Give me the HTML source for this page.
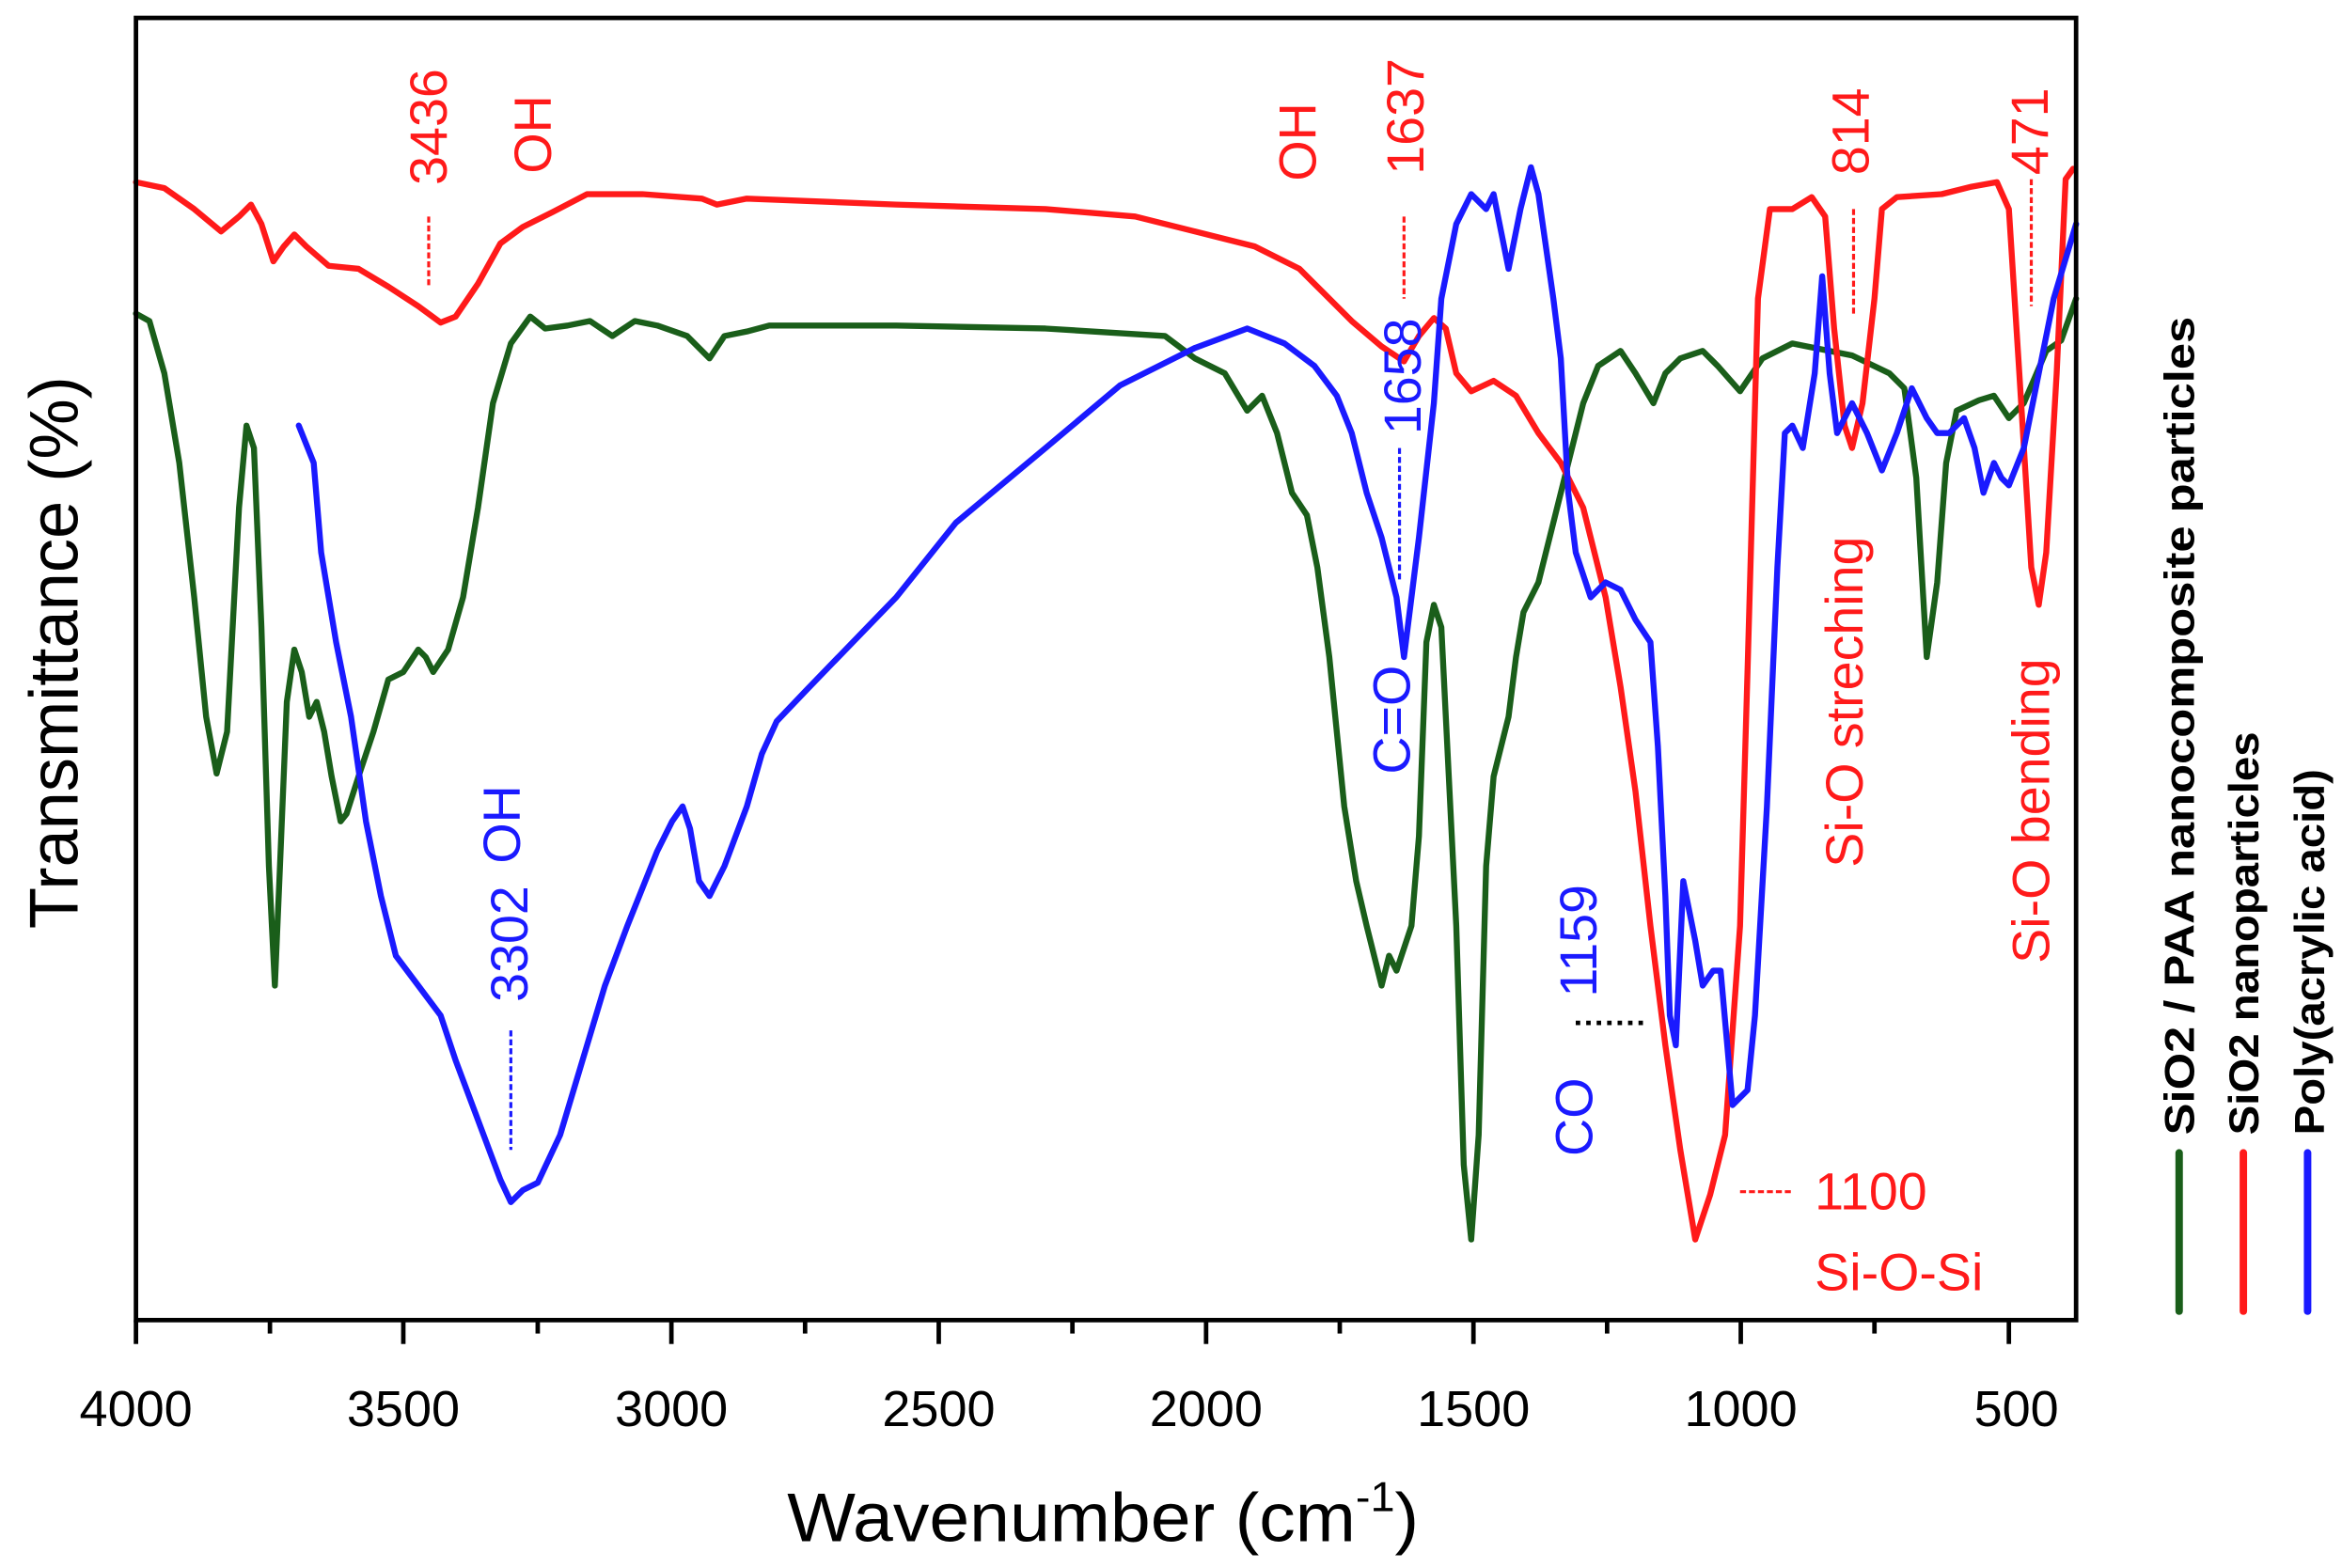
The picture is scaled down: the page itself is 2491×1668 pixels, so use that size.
<!DOCTYPE html>
<html><head><meta charset="utf-8"><style>
html,body{margin:0;padding:0;background:#fff;}
svg{display:block;}
text{font-family:"Liberation Sans",Arial,sans-serif;}
</style></head><body>
<svg width="2491" height="1668" viewBox="0 0 1568 1050" xmlns="http://www.w3.org/2000/svg">
<rect width="1568" height="1050" fill="#fff"/>
<g fill="none" stroke-width="4" stroke-linejoin="round" stroke-linecap="round">
<polyline stroke="#1a5e1a" points="91,210 100,215 110,250 120,310 130,400 138,480 145,518 152,490 160,340 165,285 170,300 175,420 180,580 184,660 187,590 192,470 197,435 202,450 207,480 212,470 217,490 222,520 228,550 232,545 240,520 250,490 260,455 270,450 280,435 285,440 290,450 300,435 310,400 320,340 330,270 342,230 355,212 365,220 380,218 395,215 410,225 425,215 440,218 460,225 475,240 485,225 500,222 515,218 540,218 600,218 700,220 780,225 800,240 820,250 835,275 845,265 855,290 865,330 875,345 882,380 890,440 900,540 908,590 915,620 920,640 925,660 930,640 935,650 945,620 950,560 955,430 960,405 965,420 970,520 975,620 980,780 985,830 990,760 995,580 1000,520 1005,500 1010,480 1015,440 1020,410 1030,390 1040,350 1050,310 1060,270 1070,245 1085,235 1095,250 1107,270 1115,250 1125,240 1140,235 1150,245 1165,262 1180,240 1200,230 1240,238 1265,250 1275,260 1283,320 1290,440 1297,390 1303,310 1310,275 1325,268 1335,265 1345,280 1355,270 1370,235 1380,228 1390,200"/>
<polyline stroke="#ff1a1a" points="91,122 110,126 130,140 148,155 160,145 168,137 175,150 183,175 190,165 197,157 205,165 220,178 240,180 260,192 280,205 295,216 305,212 320,190 335,163 350,152 370,142 393,130 430,130 470,133 480,137 500,133 600,137 700,140 760,145 800,155 840,165 870,180 885,195 905,215 925,232 940,242 950,225 960,213 968,220 975,250 985,262 1000,255 1015,265 1030,290 1045,310 1060,340 1075,400 1085,460 1095,530 1105,620 1115,700 1125,770 1135,830 1145,800 1155,760 1165,620 1170,450 1177,200 1185,140 1200,140 1213,132 1222,145 1228,220 1235,285 1240,300 1247,270 1255,200 1260,140 1270,132 1300,130 1320,125 1337,122 1345,140 1352,250 1360,380 1365,405 1370,370 1377,250 1383,120 1388,113"/>
<polyline stroke="#1a1aff" points="200,285 210,310 215,370 225,430 235,480 245,550 255,600 265,640 280,660 295,680 305,710 320,750 335,790 342,805 350,797 360,792 375,760 390,710 405,660 420,620 440,570 450,550 457,540 462,555 468,590 475,600 485,580 500,540 510,505 520,483 540,462 600,400 640,350 700,300 750,258 800,233 835,220 860,230 880,245 895,265 905,290 915,330 925,360 935,400 940,440 945,400 950,360 960,270 965,200 975,150 985,130 995,140 1000,130 1010,180 1018,140 1025,112 1030,130 1040,200 1045,240 1050,330 1055,370 1065,400 1075,390 1085,395 1095,415 1105,430 1110,500 1115,600 1118,680 1122,700 1127,590 1135,630 1140,660 1147,650 1152,650 1160,740 1170,730 1175,680 1183,540 1190,380 1195,290 1200,285 1207,300 1215,250 1220,185 1225,250 1230,290 1240,270 1250,290 1260,315 1270,290 1280,260 1290,280 1297,290 1305,290 1315,280 1322,300 1328,330 1335,310 1340,320 1345,325 1355,300 1365,250 1375,200 1390,150"/>
</g>
<rect x="91" y="12" width="1299" height="872" fill="none" stroke="#000" stroke-width="3"/>
<g stroke="#000" stroke-width="3">
<line x1="91" y1="884" x2="91" y2="900"/><line x1="180.7" y1="884" x2="180.7" y2="893"/>
<line x1="270" y1="884" x2="270" y2="900"/><line x1="360" y1="884" x2="360" y2="893"/>
<line x1="449.5" y1="884" x2="449.5" y2="900"/><line x1="539" y1="884" x2="539" y2="893"/>
<line x1="628.5" y1="884" x2="628.5" y2="900"/><line x1="718" y1="884" x2="718" y2="893"/>
<line x1="807.5" y1="884" x2="807.5" y2="900"/><line x1="897" y1="884" x2="897" y2="893"/>
<line x1="986.5" y1="884" x2="986.5" y2="900"/><line x1="1076" y1="884" x2="1076" y2="893"/>
<line x1="1165.5" y1="884" x2="1165.5" y2="900"/><line x1="1255" y1="884" x2="1255" y2="893"/>
<line x1="1345" y1="884" x2="1345" y2="900"/>
</g>
<g font-size="34" text-anchor="middle" fill="#000">
<text x="91" y="955">4000</text><text x="270" y="955">3500</text><text x="449.5" y="955">3000</text>
<text x="628.5" y="955">2500</text><text x="807.5" y="955">2000</text><text x="986.5" y="955">1500</text>
<text x="1165.5" y="955">1000</text><text x="1350" y="955">500</text>
</g>
<text x="527" y="1032" font-size="46" textLength="423" lengthAdjust="spacingAndGlyphs">Wavenumber (cm<tspan font-size="28" dy="-20">-1</tspan><tspan dy="20">)</tspan></text>
<text transform="translate(52,437) rotate(-90)" font-size="46" text-anchor="middle" textLength="370" lengthAdjust="spacingAndGlyphs">Transmittance (%)</text>
<g font-size="35" fill="#ff1a1a">
<text transform="translate(299,85) rotate(-90)" text-anchor="middle">3436</text>
<text transform="translate(369,90) rotate(-90)" text-anchor="middle">OH</text>
<text transform="translate(881,95) rotate(-90)" text-anchor="middle">OH</text>
<text transform="translate(953,78) rotate(-90)" text-anchor="middle">1637</text>
<text transform="translate(1251,88) rotate(-90)" text-anchor="middle">814</text>
<text transform="translate(1371,88) rotate(-90)" text-anchor="middle">471</text>
<text transform="translate(1247,470) rotate(-90)" text-anchor="middle">Si-O streching</text>
<text transform="translate(1372,543) rotate(-90)" text-anchor="middle">Si-O bending</text>
<text x="1215" y="810">1100</text>
<text x="1215" y="864">Si-O-Si</text>
</g>
<g stroke="#ff1a1a" stroke-width="2" stroke-dasharray="4,2">
<line x1="287" y1="145" x2="287" y2="192"/><line x1="940" y1="145" x2="940" y2="200"/>
<line x1="1241" y1="140" x2="1241" y2="210"/><line x1="1360" y1="120" x2="1360" y2="205"/>
<line x1="1165" y1="798" x2="1200" y2="798"/>
</g>
<g font-size="35" fill="#1a1aff">
<text transform="translate(951,252) rotate(-90)" text-anchor="middle">1658</text>
<text transform="translate(944,482) rotate(-90)" text-anchor="middle">C=O</text>
<text transform="translate(348,552) rotate(-90)" text-anchor="middle">OH</text>
<text transform="translate(353,632) rotate(-90)" text-anchor="middle">3302</text>
<text transform="translate(1069,630) rotate(-90)" text-anchor="middle">1159</text>
<text transform="translate(1066,748) rotate(-90)" text-anchor="middle">CO</text>
</g>
<g stroke="#1a1aff" stroke-width="2" stroke-dasharray="4,2">
<line x1="937" y1="300" x2="937" y2="390"/><line x1="342" y1="690" x2="342" y2="770"/>
</g>
<line x1="1055" y1="685" x2="1100" y2="685" stroke="#000" stroke-width="3" stroke-dasharray="3,4"/>
<g font-size="28" font-weight="bold" fill="#000">
<text transform="translate(1469,760) rotate(-90)" textLength="548" lengthAdjust="spacingAndGlyphs">SiO2 / PAA nanocomposite particles</text>
<text transform="translate(1512,760) rotate(-90)" textLength="270" lengthAdjust="spacingAndGlyphs">SiO2 nanoparticles</text>
<text transform="translate(1556,760) rotate(-90)" textLength="245" lengthAdjust="spacingAndGlyphs">Poly(acrylic acid)</text>
</g>
<g stroke-width="5" stroke-linecap="round">
<line x1="1459" y1="772" x2="1459" y2="878" stroke="#1a5e1a"/>
<line x1="1502" y1="772" x2="1502" y2="878" stroke="#ff1a1a"/>
<line x1="1545" y1="772" x2="1545" y2="878" stroke="#1a1aff"/>
</g>
</svg>
</body></html>
